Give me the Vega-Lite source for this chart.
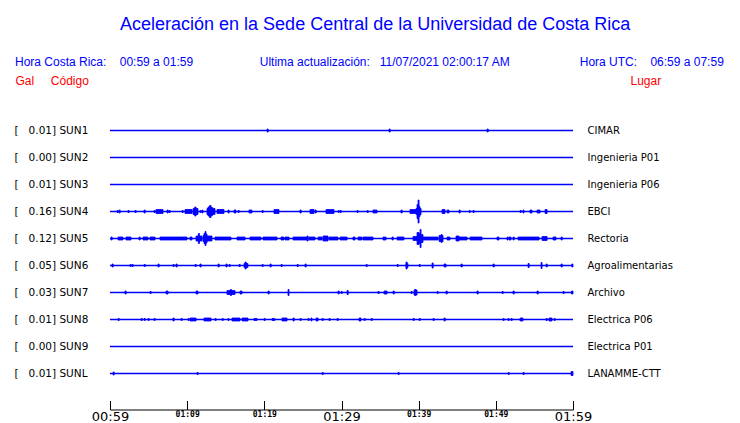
{
  "$schema": "https://vega.github.io/schema/vega-lite/v6.json",
  "width": 463,
  "height": 270,
  "padding": {"left": 14, "top": 15, "right": 5, "bottom": 0},
  "background": "white",
  "title": {
    "text": "\u200b\u00a0\u00a0\u00a0\u00a0\u00a0\u00a0\u00a0\u00a0\u00a0\u00a0\u00a0\u00a0\u00a0\u00a0\u00a0\u00a0\u00a0\u00a0\u00a0\u00a0\u00a0Aceleración en la Sede Central de la Universidad de Costa Rica",
    "subtitle": "Hora Costa Rica:\u00a0\u00a0\u00a0\u00a000:59 a 01:59\u00a0\u00a0\u00a0\u00a0\u00a0\u00a0\u00a0\u00a0\u00a0\u00a0\u00a0\u00a0\u00a0\u00a0\u00a0\u00a0\u00a0\u00a0\u00a0\u00a0Ultima actualización:\u00a0\u00a0\u00a011/07/2021 02:00:17 AM\u00a0\u00a0\u00a0\u00a0\u00a0\u00a0\u00a0\u00a0\u00a0\u00a0\u00a0\u00a0\u00a0\u00a0\u00a0\u00a0\u00a0\u00a0\u00a0\u00a0\u00a0Hora UTC:\u00a0\u00a0\u00a0\u00a006:59 a 07:59",
    "anchor": "start",
    "frame": "group",
    "dx": -95,
    "font": "Liberation Sans",
    "fontSize": 18,
    "fontWeight": "normal",
    "color": "#0000ff",
    "subtitleFont": "Liberation Sans",
    "subtitleFontSize": 12,
    "subtitleColor": "#0000ff",
    "subtitlePadding": 23,
    "offset": 7
  },
  "datasets": {
    "estaciones": [
      {"s": "SUN1", "etiqueta": "[\u00a0\u00a0\u00a00.01]\u00a0SUN1", "lugar": "CIMAR"},
      {"s": "SUN2", "etiqueta": "[\u00a0\u00a0\u00a00.00]\u00a0SUN2", "lugar": "Ingenieria P01"},
      {"s": "SUN3", "etiqueta": "[\u00a0\u00a0\u00a00.01]\u00a0SUN3", "lugar": "Ingenieria P06"},
      {"s": "SUN4", "etiqueta": "[\u00a0\u00a0\u00a00.16]\u00a0SUN4", "lugar": "EBCI"},
      {"s": "SUN5", "etiqueta": "[\u00a0\u00a0\u00a00.12]\u00a0SUN5", "lugar": "Rectoria"},
      {"s": "SUN6", "etiqueta": "[\u00a0\u00a0\u00a00.05]\u00a0SUN6", "lugar": "Agroalimentarias"},
      {"s": "SUN7", "etiqueta": "[\u00a0\u00a0\u00a00.03]\u00a0SUN7", "lugar": "Archivo"},
      {"s": "SUN8", "etiqueta": "[\u00a0\u00a0\u00a00.01]\u00a0SUN8", "lugar": "Electrica P06"},
      {"s": "SUN9", "etiqueta": "[\u00a0\u00a0\u00a00.00]\u00a0SUN9", "lugar": "Electrica P01"},
      {"s": "SUNL", "etiqueta": "[\u00a0\u00a0\u00a00.01]\u00a0SUNL", "lugar": "LANAMME-CTT"}
    ],
    "trazas": [
      {"s":"SUN1","t0":20.35,"t1":20.5,"amp":3},{"s":"SUN1","t0":36.16,"t1":36.31,"amp":3},{"s":"SUN1","t0":48.86,"t1":49.01,"amp":3},

      {"s":"SUN4","t0":0.91,"t1":1.06,"amp":2},{"s":"SUN4","t0":1.17,"t1":1.32,"amp":3},{"s":"SUN4","t0":2.33,"t1":2.48,"amp":2},{"s":"SUN4","t0":3.24,"t1":3.39,"amp":2},{"s":"SUN4","t0":4.41,"t1":4.56,"amp":3},{"s":"SUN4","t0":5.7,"t1":5.85,"amp":2},{"s":"SUN4","t0":5.96,"t1":6.87,"amp":4},{"s":"SUN4","t0":7.39,"t1":7.54,"amp":3},{"s":"SUN4","t0":7.65,"t1":7.8,"amp":2},{"s":"SUN4","t0":9.33,"t1":9.48,"amp":2},{"s":"SUN4","t0":9.72,"t1":10.63,"amp":4},{"s":"SUN4","t0":10.76,"t1":11.4,"amp":6},{"s":"SUN4","t0":10.98,"t1":11.15,"amp":9},{"s":"SUN4","t0":11.66,"t1":11.81,"amp":2},{"s":"SUN4","t0":11.92,"t1":12.05,"amp":3},{"s":"SUN4","t0":12.57,"t1":13.61,"amp":6},{"s":"SUN4","t0":12.7,"t1":12.9,"amp":9},{"s":"SUN4","t0":12.9,"t1":13.1,"amp":12},{"s":"SUN4","t0":13.1,"t1":13.3,"amp":8},{"s":"SUN4","t0":13.87,"t1":14.77,"amp":4},{"s":"SUN4","t0":15.29,"t1":15.44,"amp":3},{"s":"SUN4","t0":16.07,"t1":16.33,"amp":3},{"s":"SUN4","t0":16.59,"t1":16.74,"amp":2},{"s":"SUN4","t0":18.01,"t1":18.4,"amp":3},{"s":"SUN4","t0":19.7,"t1":19.85,"amp":2},{"s":"SUN4","t0":21.25,"t1":21.9,"amp":4},{"s":"SUN4","t0":24.62,"t1":24.77,"amp":3},{"s":"SUN4","t0":25.92,"t1":26.44,"amp":4},{"s":"SUN4","t0":26.57,"t1":26.72,"amp":3},{"s":"SUN4","t0":27.99,"t1":29.03,"amp":4},{"s":"SUN4","t0":29.55,"t1":29.7,"amp":2},{"s":"SUN4","t0":29.81,"t1":29.96,"amp":2},{"s":"SUN4","t0":32.01,"t1":32.16,"amp":2},{"s":"SUN4","t0":33.31,"t1":33.46,"amp":2},{"s":"SUN4","t0":34.08,"t1":34.6,"amp":3},{"s":"SUN4","t0":37.71,"t1":37.86,"amp":3},{"s":"SUN4","t0":38.88,"t1":39.66,"amp":4},{"s":"SUN4","t0":39.66,"t1":39.79,"amp":6},{"s":"SUN4","t0":39.79,"t1":39.92,"amp":14},{"s":"SUN4","t0":39.92,"t1":40.05,"amp":23},{"s":"SUN4","t0":40.05,"t1":40.18,"amp":10},{"s":"SUN4","t0":40.18,"t1":40.31,"amp":6},{"s":"SUN4","t0":43.03,"t1":43.42,"amp":4},{"s":"SUN4","t0":43.68,"t1":43.93,"amp":3},{"s":"SUN4","t0":45.23,"t1":45.38,"amp":3},{"s":"SUN4","t0":46.53,"t1":46.68,"amp":2},{"s":"SUN4","t0":47.04,"t1":47.19,"amp":2},{"s":"SUN4","t0":53.14,"t1":53.29,"amp":2},{"s":"SUN4","t0":53.52,"t1":53.65,"amp":3},{"s":"SUN4","t0":54.43,"t1":54.69,"amp":3},{"s":"SUN4","t0":55.34,"t1":55.73,"amp":3},{"s":"SUN4","t0":56.38,"t1":56.64,"amp":4},

      {"s":"SUN5","t0":0.13,"t1":0.28,"amp":3},{"s":"SUN5","t0":1.04,"t1":1.68,"amp":3},{"s":"SUN5","t0":2.07,"t1":2.72,"amp":3},{"s":"SUN5","t0":3.76,"t1":3.91,"amp":3},{"s":"SUN5","t0":4.28,"t1":4.92,"amp":3},{"s":"SUN5","t0":5.18,"t1":5.83,"amp":3},{"s":"SUN5","t0":6.48,"t1":9.98,"amp":3},{"s":"SUN5","t0":10.37,"t1":10.63,"amp":3},{"s":"SUN5","t0":11.15,"t1":11.92,"amp":5},{"s":"SUN5","t0":11.45,"t1":11.6,"amp":10},{"s":"SUN5","t0":12.05,"t1":12.57,"amp":6},{"s":"SUN5","t0":12.18,"t1":12.31,"amp":10},{"s":"SUN5","t0":12.31,"t1":12.44,"amp":14},{"s":"SUN5","t0":12.44,"t1":12.57,"amp":9},{"s":"SUN5","t0":12.57,"t1":13.22,"amp":5},{"s":"SUN5","t0":13.61,"t1":15.68,"amp":3},{"s":"SUN5","t0":16.46,"t1":17.5,"amp":3},{"s":"SUN5","t0":18.14,"t1":19.57,"amp":3},{"s":"SUN5","t0":19.83,"t1":21.64,"amp":3},{"s":"SUN5","t0":22.16,"t1":22.55,"amp":3},{"s":"SUN5","t0":22.68,"t1":23.2,"amp":3},{"s":"SUN5","t0":23.72,"t1":25.53,"amp":3},{"s":"SUN5","t0":25.53,"t1":25.68,"amp":5},{"s":"SUN5","t0":25.79,"t1":26.57,"amp":3},{"s":"SUN5","t0":26.96,"t1":27.48,"amp":3},{"s":"SUN5","t0":27.6,"t1":28.25,"amp":5},{"s":"SUN5","t0":28.38,"t1":29.55,"amp":3},{"s":"SUN5","t0":29.81,"t1":30.72,"amp":3},{"s":"SUN5","t0":31.49,"t1":31.75,"amp":3},{"s":"SUN5","t0":32.14,"t1":32.66,"amp":3},{"s":"SUN5","t0":32.79,"t1":34.08,"amp":3},{"s":"SUN5","t0":35.38,"t1":35.77,"amp":3},{"s":"SUN5","t0":36.55,"t1":36.7,"amp":3},{"s":"SUN5","t0":37.2,"t1":38.1,"amp":3},{"s":"SUN5","t0":39.27,"t1":39.79,"amp":4},{"s":"SUN5","t0":39.79,"t1":40.05,"amp":12},{"s":"SUN5","t0":40.05,"t1":40.18,"amp":10},{"s":"SUN5","t0":40.18,"t1":40.31,"amp":18},{"s":"SUN5","t0":40.31,"t1":40.56,"amp":8},{"s":"SUN5","t0":40.56,"t1":42.51,"amp":3},{"s":"SUN5","t0":42.64,"t1":43.16,"amp":6},{"s":"SUN5","t0":42.9,"t1":43.03,"amp":8},{"s":"SUN5","t0":43.68,"t1":44.06,"amp":3},{"s":"SUN5","t0":44.84,"t1":45.23,"amp":5},{"s":"SUN5","t0":45.23,"t1":46.27,"amp":3},{"s":"SUN5","t0":46.66,"t1":48.21,"amp":3},{"s":"SUN5","t0":50.16,"t1":50.41,"amp":3},{"s":"SUN5","t0":51.45,"t1":51.6,"amp":3},{"s":"SUN5","t0":51.71,"t1":51.97,"amp":3},{"s":"SUN5","t0":52.23,"t1":52.38,"amp":3},{"s":"SUN5","t0":52.88,"t1":55.6,"amp":3},{"s":"SUN5","t0":55.99,"t1":56.64,"amp":4},{"s":"SUN5","t0":57.41,"t1":57.8,"amp":3},{"s":"SUN5","t0":58.45,"t1":58.6,"amp":3},

      {"s":"SUN6","t0":0.26,"t1":0.41,"amp":3},{"s":"SUN6","t0":2.59,"t1":2.74,"amp":2},{"s":"SUN6","t0":2.85,"t1":3.0,"amp":2},{"s":"SUN6","t0":4.41,"t1":4.56,"amp":2},{"s":"SUN6","t0":6.22,"t1":6.37,"amp":3},{"s":"SUN6","t0":8.16,"t1":8.31,"amp":2},{"s":"SUN6","t0":8.55,"t1":8.7,"amp":3},{"s":"SUN6","t0":11.02,"t1":11.17,"amp":2},{"s":"SUN6","t0":11.66,"t1":11.81,"amp":3},{"s":"SUN6","t0":14.0,"t1":14.15,"amp":3},{"s":"SUN6","t0":15.03,"t1":15.18,"amp":3},{"s":"SUN6","t0":15.42,"t1":15.57,"amp":2},{"s":"SUN6","t0":16.72,"t1":16.87,"amp":2},{"s":"SUN6","t0":17.37,"t1":17.88,"amp":4},{"s":"SUN6","t0":17.5,"t1":17.65,"amp":7},{"s":"SUN6","t0":19.7,"t1":19.85,"amp":2},{"s":"SUN6","t0":20.74,"t1":20.89,"amp":3},{"s":"SUN6","t0":22.16,"t1":22.31,"amp":2},{"s":"SUN6","t0":24.24,"t1":24.39,"amp":2},{"s":"SUN6","t0":25.27,"t1":25.42,"amp":3},{"s":"SUN6","t0":33.18,"t1":33.33,"amp":2},{"s":"SUN6","t0":37.2,"t1":37.35,"amp":2},{"s":"SUN6","t0":38.36,"t1":38.62,"amp":4},{"s":"SUN6","t0":38.36,"t1":38.5,"amp":7},{"s":"SUN6","t0":40.05,"t1":40.2,"amp":2},{"s":"SUN6","t0":41.73,"t1":41.88,"amp":5},{"s":"SUN6","t0":43.29,"t1":43.55,"amp":3},{"s":"SUN6","t0":45.49,"t1":45.64,"amp":3},{"s":"SUN6","t0":49.64,"t1":49.79,"amp":3},{"s":"SUN6","t0":54.17,"t1":54.32,"amp":4},{"s":"SUN6","t0":55.86,"t1":55.99,"amp":6},{"s":"SUN6","t0":56.51,"t1":56.66,"amp":3},{"s":"SUN6","t0":58.45,"t1":58.6,"amp":3},{"s":"SUN6","t0":59.85,"t1":60.0,"amp":3},

      {"s":"SUN7","t0":1.94,"t1":2.09,"amp":3},{"s":"SUN7","t0":5.18,"t1":5.33,"amp":2},{"s":"SUN7","t0":7.26,"t1":7.52,"amp":3},{"s":"SUN7","t0":11.15,"t1":11.4,"amp":3},{"s":"SUN7","t0":15.16,"t1":16.2,"amp":4},{"s":"SUN7","t0":15.6,"t1":15.75,"amp":6},{"s":"SUN7","t0":16.85,"t1":17.11,"amp":3},{"s":"SUN7","t0":20.48,"t1":20.63,"amp":3},{"s":"SUN7","t0":23.07,"t1":23.2,"amp":6},{"s":"SUN7","t0":29.55,"t1":29.7,"amp":3},{"s":"SUN7","t0":29.95,"t1":30.1,"amp":2},{"s":"SUN7","t0":30.72,"t1":30.87,"amp":4},{"s":"SUN7","t0":34.73,"t1":34.88,"amp":2},{"s":"SUN7","t0":35.51,"t1":35.9,"amp":3},{"s":"SUN7","t0":36.68,"t1":36.83,"amp":3},{"s":"SUN7","t0":39.01,"t1":39.16,"amp":2},{"s":"SUN7","t0":39.4,"t1":39.79,"amp":5},{"s":"SUN7","t0":39.5,"t1":39.65,"amp":6},{"s":"SUN7","t0":42.38,"t1":42.53,"amp":2},{"s":"SUN7","t0":43.55,"t1":43.7,"amp":3},{"s":"SUN7","t0":47.56,"t1":47.71,"amp":3},{"s":"SUN7","t0":50.8,"t1":50.95,"amp":2},{"s":"SUN7","t0":52.23,"t1":52.38,"amp":3},{"s":"SUN7","t0":55.34,"t1":55.49,"amp":3},{"s":"SUN7","t0":58.71,"t1":58.86,"amp":2},{"s":"SUN7","t0":59.8,"t1":60.0,"amp":3},

      {"s":"SUN8","t0":1.04,"t1":1.19,"amp":2},{"s":"SUN8","t0":4.02,"t1":4.17,"amp":2},{"s":"SUN8","t0":4.41,"t1":4.56,"amp":2},{"s":"SUN8","t0":4.92,"t1":5.07,"amp":2},{"s":"SUN8","t0":5.7,"t1":5.85,"amp":2},{"s":"SUN8","t0":8.16,"t1":8.31,"amp":3},{"s":"SUN8","t0":9.2,"t1":9.35,"amp":2},{"s":"SUN8","t0":10.11,"t1":10.26,"amp":2},{"s":"SUN8","t0":10.37,"t1":11.15,"amp":3},{"s":"SUN8","t0":12.18,"t1":13.09,"amp":3},{"s":"SUN8","t0":13.61,"t1":13.76,"amp":2},{"s":"SUN8","t0":14.52,"t1":14.67,"amp":2},{"s":"SUN8","t0":15.29,"t1":15.42,"amp":2},{"s":"SUN8","t0":15.81,"t1":16.85,"amp":3},{"s":"SUN8","t0":17.11,"t1":17.88,"amp":3},{"s":"SUN8","t0":18.66,"t1":19.05,"amp":2},{"s":"SUN8","t0":19.96,"t1":20.11,"amp":2},{"s":"SUN8","t0":21.0,"t1":21.38,"amp":2},{"s":"SUN8","t0":22.29,"t1":22.94,"amp":3},{"s":"SUN8","t0":23.72,"t1":23.87,"amp":3},{"s":"SUN8","t0":24.62,"t1":24.77,"amp":2},{"s":"SUN8","t0":25.66,"t1":25.81,"amp":2},{"s":"SUN8","t0":26.05,"t1":26.18,"amp":3},{"s":"SUN8","t0":26.7,"t1":26.96,"amp":3},{"s":"SUN8","t0":27.48,"t1":27.63,"amp":2},{"s":"SUN8","t0":28.38,"t1":28.53,"amp":2},{"s":"SUN8","t0":29.42,"t1":29.57,"amp":2},{"s":"SUN8","t0":32.27,"t1":32.53,"amp":3},{"s":"SUN8","t0":32.92,"t1":33.07,"amp":2},{"s":"SUN8","t0":33.83,"t1":33.98,"amp":2},{"s":"SUN8","t0":39.27,"t1":39.42,"amp":2},{"s":"SUN8","t0":40.05,"t1":40.2,"amp":2},{"s":"SUN8","t0":41.86,"t1":42.01,"amp":2},{"s":"SUN8","t0":43.29,"t1":43.44,"amp":3},{"s":"SUN8","t0":50.93,"t1":51.08,"amp":2},{"s":"SUN8","t0":51.58,"t1":51.73,"amp":2},{"s":"SUN8","t0":51.97,"t1":52.12,"amp":2},{"s":"SUN8","t0":53.14,"t1":53.52,"amp":3},{"s":"SUN8","t0":56.51,"t1":56.66,"amp":2},{"s":"SUN8","t0":56.89,"t1":57.28,"amp":3},{"s":"SUN8","t0":57.54,"t1":57.69,"amp":2},

      {"s":"SUNL","t0":0.39,"t1":0.54,"amp":3},{"s":"SUNL","t0":11.27,"t1":11.42,"amp":2},{"s":"SUNL","t0":27.48,"t1":27.63,"amp":2},{"s":"SUNL","t0":37.32,"t1":37.47,"amp":2},{"s":"SUNL","t0":51.58,"t1":51.73,"amp":2},{"s":"SUNL","t0":53.52,"t1":53.67,"amp":2},{"s":"SUNL","t0":59.75,"t1":60.0,"amp":4}
    ]
  },
  "layer": [
    {
      "data": {"name": "estaciones"},
      "mark": {"type": "rule", "color": "#0000ff", "strokeWidth": 1.4},
      "encoding": {
        "x": {
          "datum": 0,
          "type": "quantitative",
          "scale": {"domain": [0, 60], "nice": false, "zero": false},
          "axis": {
            "orient": "bottom",
            "offset": 22.5,
            "values": [0, 5, 10, 15, 20, 25, 30, 35, 40, 45, 50, 55, 60],
            "title": null,
            "grid": false,
            "domainColor": "black",
            "domainWidth": 1,
            "tickColor": "black",
            "tickWidth": 1,
            "tickSize": -9,
            "labelPadding": 10,
            "labelColor": "black",
            "labelOverlap": false,
            "labelFlush": false,
            "labelBound": false,
            "labelExpr": "datum.value % 10 === 0 ? ['00:59','01:09','01:19','01:29','01:39','01:49','01:59'][datum.value / 10] : ''",
            "labelFontSize": {"condition": {"test": "datum.value % 30 === 0", "value": 13}, "value": 8},
            "labelFont": {"condition": {"test": "datum.value % 30 === 0", "value": "DejaVu Sans"}, "value": "DejaVu Sans Mono"},
            "labelFontWeight": {"condition": {"test": "datum.value % 30 === 0", "value": "normal"}, "value": "bold"}
          }
        },
        "x2": {"datum": 60},
        "y": {
          "field": "etiqueta",
          "type": "nominal",
          "sort": null,
          "axis": {
            "orient": "left",
            "title": "Gal\u00a0\u00a0\u00a0\u00a0\u00a0Código",
            "titleAngle": 0,
            "titleX": -95,
            "titleY": -32.5,
            "titleAlign": "left",
            "titleBaseline": "alphabetic",
            "titleColor": "#ff0000",
            "titleFont": "Liberation Sans",
            "titleFontSize": 12,
            "titleFontWeight": "normal",
            "domain": false,
            "ticks": false,
            "labelAlign": "left",
            "labelBaseline": "middle",
            "labelPadding": 96,
            "labelFont": "DejaVu Sans",
            "labelFontSize": 10.5,
            "labelColor": "black"
          }
        }
      }
    },
    {
      "data": {"name": "estaciones"},
      "mark": {"type": "rule", "color": "#0000ff", "strokeWidth": 1.4, "opacity": 0},
      "encoding": {
        "x": {"datum": 0, "type": "quantitative"},
        "x2": {"datum": 60},
        "y": {
          "field": "lugar",
          "type": "nominal",
          "sort": null,
          "axis": {
            "orient": "right",
            "title": "Lugar",
            "titleAngle": 0,
            "titleX": 57,
            "titleY": -32.5,
            "titleAlign": "left",
            "titleBaseline": "alphabetic",
            "titleColor": "#ff0000",
            "titleFont": "Liberation Sans",
            "titleFontSize": 12,
            "titleFontWeight": "normal",
            "domain": false,
            "ticks": false,
            "labelAlign": "left",
            "labelBaseline": "middle",
            "labelPadding": 14,
            "labelFont": "DejaVu Sans",
            "labelFontSize": 10,
            "labelColor": "black"
          }
        }
      }
    },
    {
      "data": {"name": "trazas"},
      "mark": {"type": "bar", "color": "#0000ff", "stroke": "#0000ff", "strokeWidth": 0.8},
      "encoding": {
        "x": {"field": "t0", "type": "quantitative"},
        "x2": {"field": "t1"},
        "y": {
          "field": "s",
          "type": "nominal",
          "scale": {"domain": ["SUN1", "SUN2", "SUN3", "SUN4", "SUN5", "SUN6", "SUN7", "SUN8", "SUN9", "SUNL"], "paddingInner": 0, "paddingOuter": 0},
          "axis": null
        },
        "size": {"field": "amp", "type": "quantitative", "scale": {"domain": [0, 24], "range": [0, 24]}, "legend": null}
      }
    }
  ],
  "resolve": {"scale": {"y": "independent"}},
  "config": {"view": {"stroke": null}}
}
